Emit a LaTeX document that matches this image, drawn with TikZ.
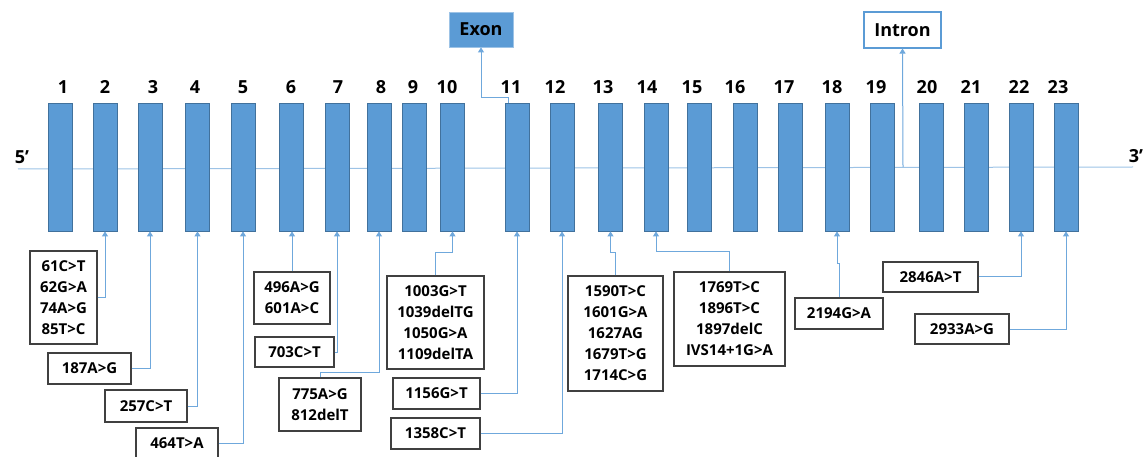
\documentclass[tikz,border=0pt]{standalone}
\usepackage{fontspec}
\setmainfont{Open Sans}
\usetikzlibrary{arrows.meta}
\definecolor{exfill}{HTML}{5B9BD5}
\definecolor{exdraw}{HTML}{41719C}
\definecolor{conn}{HTML}{6FA8DC}
\definecolor{bb}{HTML}{9DC3E6}
\definecolor{bx}{HTML}{404040}
\tikzset{
  exonbox/.style={rectangle, fill=exfill, draw=exdraw, line width=0.8pt, minimum width=24pt, minimum height=128pt, inner sep=0pt},
  numlbl/.style={font=\fontsize{18}{18}\selectfont\bfseries, inner sep=0pt},
  mutbox/.style={rectangle, draw=bx, line width=1.1pt, fill=white, align=center, inner sep=0pt, font=\fontsize{15}{21}\selectfont\bfseries},
  connector/.style={draw=conn, line width=1pt, -{Triangle[width=6pt,length=5pt]}},
  endlbl/.style={font=\fontsize{18}{18}\selectfont\bfseries, inner sep=0pt}
}
\begin{document}
\begin{tikzpicture}[x=1pt,y=-1pt]
\useasboundingbox (0,0) rectangle (1144,457);
% backbone
\coordinate (p5) at (18,169);
\coordinate (p3) at (1133,167);
\draw[bb, line width=1pt] (p5) -- (p3);
\node[endlbl] (t5) at (22,157) {5’};
\node[endlbl] (t3) at (1136,156) {3’};
% exons
\foreach \n/\x/\lx in {1/60/63, 2/105/105, 3/150/153, 4/197.5/195, 5/243/243, 6/291.5/291, 7/337/338, 8/379/381, 9/414.5/413, 10/452.5/447, 11/517/511, 12/562/555, 13/610.5/603, 14/656/647, 15/699/692, 16/745/735, 17/790/784, 18/837/832, 19/882/876, 20/931/927, 21/976/971, 22/1021/1019, 23/1066/1058}{
  \node[exonbox] (e\n) at (\x,167) {};
  \node[numlbl] (n\n) at (\lx,87) {\n};
}
% legend boxes
\node[rectangle, fill=exfill, draw=bb, line width=0.8pt, minimum width=64pt, minimum height=35pt, inner sep=0pt, font=\fontsize{18}{18}\selectfont\bfseries] (exon) at (481,29.5) {Exon};
\node[rectangle, fill=white, draw=exfill, line width=1.1pt, minimum width=77pt, minimum height=36pt, inner sep=0pt, font=\fontsize{18}{18}\selectfont\bfseries] (intron) at (902.5,30) {Intron};
\coordinate (ip) at (903,167);
\draw[connector] ([xshift=-9pt]e11.north) -- ++(0,-5) -| (exon.south);
\draw[connector] (ip) -- (intron.south);
% mutation boxes
\node[mutbox, minimum width=67pt, minimum height=93pt] (bA) at (63.5,297.5) {61C>T\\62G>A\\74A>G\\85T>C};
\node[mutbox, minimum width=83pt, minimum height=31pt] (b3) at (89.5,368.5) {187A>G};
\node[mutbox, minimum width=82pt, minimum height=32pt] (b4) at (146,406) {257C>T};
\node[mutbox, minimum width=82pt, minimum height=31pt] (b5) at (177,443.5) {464T>A};
\node[mutbox, minimum width=76pt, minimum height=52pt] (b6) at (292,298) {496A>G\\601A>C};
\node[mutbox, minimum width=79pt, minimum height=30pt] (b7) at (294.5,352) {703C>T};
\node[mutbox, minimum width=82pt, minimum height=53pt] (b8) at (320,404.5) {775A>G\\812delT};
\node[mutbox, minimum width=97pt, minimum height=93pt] (b10) at (435.5,322.5) {1003G>T\\1039delTG\\1050G>A\\1109delTA};
\node[mutbox, minimum width=87pt, minimum height=31pt] (b11) at (436.5,393.5) {1156G>T};
\node[mutbox, minimum width=89pt, minimum height=31pt] (b12) at (435.5,433.5) {1358C>T};
\node[mutbox, minimum width=95pt, minimum height=115pt] (b13) at (615.5,333.5) {1590T>C\\1601G>A\\1627AG\\1679T>G\\1714C>G};
\node[mutbox, minimum width=111pt, minimum height=94pt] (b14) at (729.5,319) {1769T>C\\1896T>C\\1897delC\\IVS14+1G>A};
\node[mutbox, minimum width=88pt, minimum height=31pt] (b18) at (839,313.5) {2194G>A};
\node[mutbox, minimum width=95pt, minimum height=30pt] (b22) at (930.5,277) {2846A>T};
\node[mutbox, minimum width=94pt, minimum height=30pt] (b23) at (962,329) {2933A>G};
% connectors
\draw[connector] (bA.east) -| (e2.south);
\draw[connector] (b3.east) -| (e3.south);
\draw[connector] (b4.east) -| (e4.south);
\draw[connector] (b5.east) -| (e5.south);
\draw[connector] (b6.north) -- (b6.north |- e6.south);
\draw[connector] (b7.east) -| (e7.south);
\draw[connector] (b8.north) -- ++(0,-5) -| (e8.south);
\draw[connector] (b10.north) -- ++(0,-23) -| (e10.south);
\draw[connector] (b11.east) -| (e11.south);
\draw[connector] (b12.east) -| (e12.south);
\draw[connector] (b13.north) -- ++(0,-23) -| (e13.south);
\draw[connector] (b14.north) -- ++(0,-20) -| (e14.south);
\draw[connector] (b18.north) -- ++(0,-34) -| (e18.south);
\draw[connector] (b22.east) -| (e22.south);
\draw[connector] (b23.east) -| (e23.south);
\end{tikzpicture}
\end{document}
